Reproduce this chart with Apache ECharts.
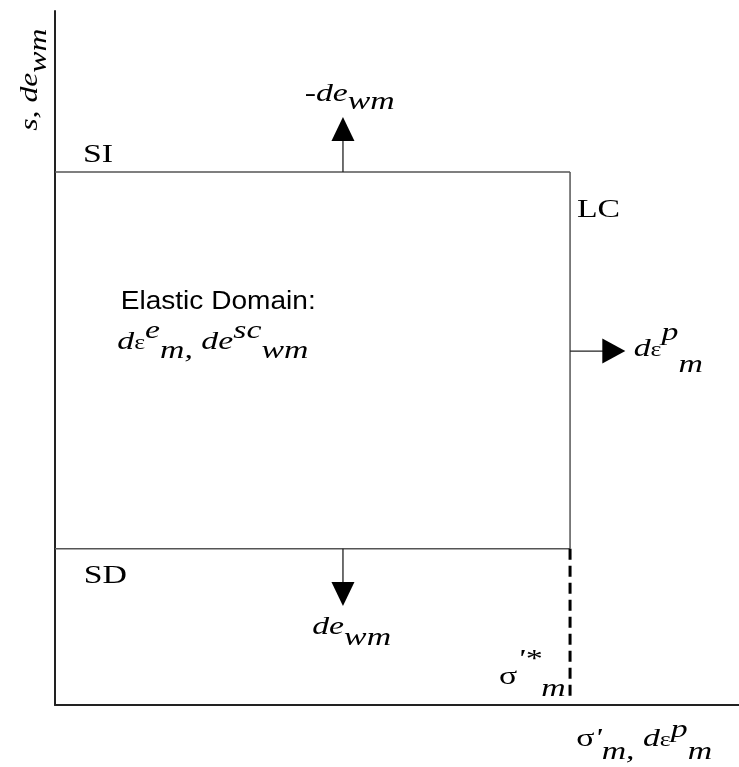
<!DOCTYPE html>
<html><head><meta charset="utf-8">
<script src="https://cdn.jsdelivr.net/npm/echarts@6/dist/echarts.min.js"></script>
<style>html,body{margin:0;padding:0;background:#fff}#c{width:739px;height:767px}</style>
</head><body><div id="c"></div>
<script>
// ---- Data (normalized schematic units) ----
const xRange = [0, 100];          // mean effective stress axis
const yRange = [0, 100];          // suction axis
// Yield boundaries
const siLine = [[0, 76.8], [75.3, 76.8]];      // suction increase
const lcLine = [[75.3, 76.8], [75.3, 22.5]];   // loading collapse
const sdLine = [[0, 22.5], [75.3, 22.5]];      // suction decrease
const preconLine = [[75.3, 22.5], [75.3, 0.6]]; // sigma'*m marker
// Arrows (start, head centre)
const upArrow = [[42.1, 76.8], [42.1, 83.0]];
const downArrow = [[42.1, 22.5], [42.1, 16.0]];
const rightArrow = [[75.3, 51.0], [81.7, 51.0]];
const arrowHeadAngles = [0, 180, -90];
// Annotation texts and anchors
const labelTexts = [
  '{b|s, de}{sub|wm}',
  '{b|-de}{sub|wm}',
  '{u|SI}',
  '{u|LC}',
  '{s|Elastic Domain:}',
  '{b|d}{e|ε}{sup|e}{sub|m,} {b|de}{sup|sc}{sub|wm}',
  '{b|d}{e|ε}{sup|p}{sub|m}',
  '{u|SD}',
  '{b|de}{sub|wm}',
  '{u|σ}{sup|\'*}{sub|m}',
  '{u|σ}{b|\'}{sub|m,} {b|d}{e|ε}{sup|p}{sub|m}'
];
const labelAnchors = [
  [-3.65, 90.1], [36.5, 88.0], [4.1, 79.2], [76.3, 71.3], [9.6, 58.1],
  [9.1, 52.3], [84.6, 51.3], [4.2, 18.6], [37.6, 11.2], [64.9, 4.0], [76.2, -4.9]
];
const supShifts = [0, 0, 0, 0, 0, 11, 16, 0, 0, 17, 9];
const subShifts = [9, 8, 0, 0, 0, 9, 16, 0, 11, 12, 13];

// ---- Styles ----
const SERIF = 'Liberation Serif';
const SANS = 'Liberation Sans';
const FS = 26, LH = 50;
const SERIF_STRETCH = 1.3, SANS_STRETCH = 1.08, TITLE_STRETCH = 1.22;
function makeRich(sup, sub) {
  const base = {fontFamily: SERIF, fontSize: FS, fill: '#000'};
  return {
    b: Object.assign({}, base, {fontStyle: 'italic', lineHeight: LH}),
    u: Object.assign({}, base, {fontStyle: 'normal', lineHeight: LH}),
    s: {fontFamily: SANS, fontStyle: 'normal', fontSize: 26, lineHeight: LH, fill: '#000'},
    e: {fontFamily: SERIF, fontStyle: 'normal', fontSize: 20, height: LH - 4, lineHeight: LH - 4, verticalAlign: 'bottom', fill: '#000'},
    sup: Object.assign({}, base, {fontStyle: 'italic', height: LH - 2 * sup, lineHeight: LH - 2 * sup, verticalAlign: 'top'}),
    sub: Object.assign({}, base, {fontStyle: 'italic', height: LH - 2 * sub, lineHeight: LH - 2 * sub, verticalAlign: 'bottom'})
  };
}

const boundaryStyle = {color: '#555', width: 1.5};
function lineSeries(data, style) {
  return {type: 'line', data: data, symbol: 'none', silent: true, lineStyle: style, clip: false, z: 3};
}

const arrowShafts = [upArrow, downArrow, rightArrow];
const headData = arrowShafts.map((a, i) => ({
  value: a[1],
  symbolRotate: arrowHeadAngles[i],
  symbolSize: i === 2 ? [25, 23] : [23, 24]
}));

const chart = echarts.init(document.getElementById('c'), null, {renderer: 'canvas'});
chart.setOption({
  animation: false,
  backgroundColor: '#fff',
  grid: {left: 55, top: 11, right: 0, bottom: 62, containLabel: false},
  xAxis: {
    type: 'value', min: xRange[0], max: xRange[1],
    axisLine: {show: true, onZero: false, lineStyle: {color: '#222', width: 2}},
    axisTick: {show: false}, axisLabel: {show: false}, splitLine: {show: false}
  },
  yAxis: {
    type: 'value', min: yRange[0], max: yRange[1],
    axisLine: {show: true, onZero: false, lineStyle: {color: '#222', width: 2}},
    axisTick: {show: false}, axisLabel: {show: false}, splitLine: {show: false}
  },
  series: [
    lineSeries(siLine, boundaryStyle),
    lineSeries(lcLine, boundaryStyle),
    lineSeries(sdLine, boundaryStyle),
    lineSeries(preconLine, {color: '#000', width: 3, type: [11, 6]}),
    lineSeries(upArrow, {color: '#222', width: 1.3}),
    lineSeries(downArrow, {color: '#222', width: 1.3}),
    lineSeries(rightArrow, {color: '#222', width: 1.3}),
    {
      type: 'scatter', data: headData, symbol: 'triangle', silent: true, clip: false, z: 4,
      itemStyle: {color: '#000', opacity: 1}
    }
  ]
});

// Text annotations placed through the grid's coordinate conversion
const graphics = labelTexts.map((t, i) => {
  const p = chart.convertToPixel({gridIndex: 0}, labelAnchors[i]);
  const isTitle = i === 0;
  const isSans = i === 4;
  return {
    type: 'text',
    x: p[0], y: p[1],
    rotation: isTitle ? Math.PI / 2 : 0,
    scaleX: isTitle ? TITLE_STRETCH : (isSans ? SANS_STRETCH : SERIF_STRETCH),
    silent: true,
    z: 10,
    style: {
      text: t,
      rich: makeRich(supShifts[i], subShifts[i]),
      fontFamily: SERIF, fontSize: FS, fill: '#000',
      align: isTitle ? 'center' : 'left',
      verticalAlign: 'middle'
    }
  };
});
chart.setOption({graphic: graphics});
</script></body></html>
